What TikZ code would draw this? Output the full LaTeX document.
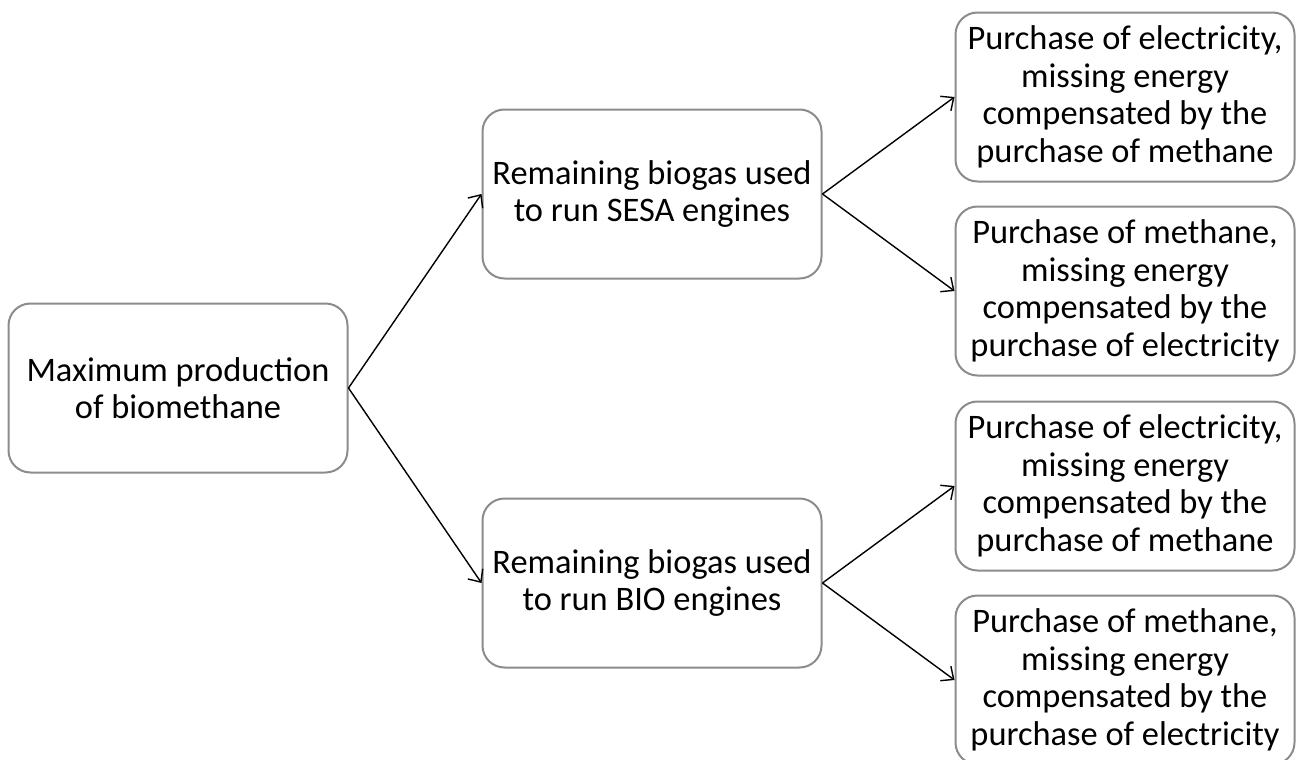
\documentclass[tikz,border=0pt]{standalone}
\usepackage{fontspec}
\setmainfont{Carlito}
\usetikzlibrary{arrows.meta}
\tikzset{
  line cap=round,
  line join=round,
  box/.style={draw=black!45, line width=1pt, rounded corners=11pt,
    minimum width=169.5pt, minimum height=84.5pt, inner sep=0pt,
    align=center, font=\fontsize{17.2}{18.8}\selectfont},
  arrow/.style={-{Straight Barb[length=5pt,width=9pt]}, line width=0.7pt}
}
\begin{document}
\begin{tikzpicture}[x=0.5pt, y=-0.5pt]
  \useasboundingbox (0,0) rectangle (1298,760);

  \node[box] (max) at (178,388) {Maximum production\\of biomethane};
  \node[box] (sesa) at (652,194) {Remaining biogas used\\to run SESA engines};
  \node[box] (bio) at (652,583) {Remaining biogas used\\to run BIO engines};

  \node[box] (sesaelec) at (1125,97) {Purchase of electricity,\\missing energy\\compensated by the\\purchase of methane};
  \node[box] (sesameth) at (1125,291) {Purchase of methane,\\missing energy\\compensated by the\\purchase of electricity};
  \node[box] (bioelec) at (1125,486) {Purchase of electricity,\\missing energy\\compensated by the\\purchase of methane};
  \node[box] (biometh) at (1125,680) {Purchase of methane,\\missing energy\\compensated by the\\purchase of electricity};

  \draw[arrow] (max.east) -- (sesa.west);
  \draw[arrow] (max.east) -- (bio.west);
  \draw[arrow] (sesa.east) -- (sesaelec.west);
  \draw[arrow] (sesa.east) -- (sesameth.west);
  \draw[arrow] (bio.east) -- (bioelec.west);
  \draw[arrow] (bio.east) -- (biometh.west);
\end{tikzpicture}
\end{document}
